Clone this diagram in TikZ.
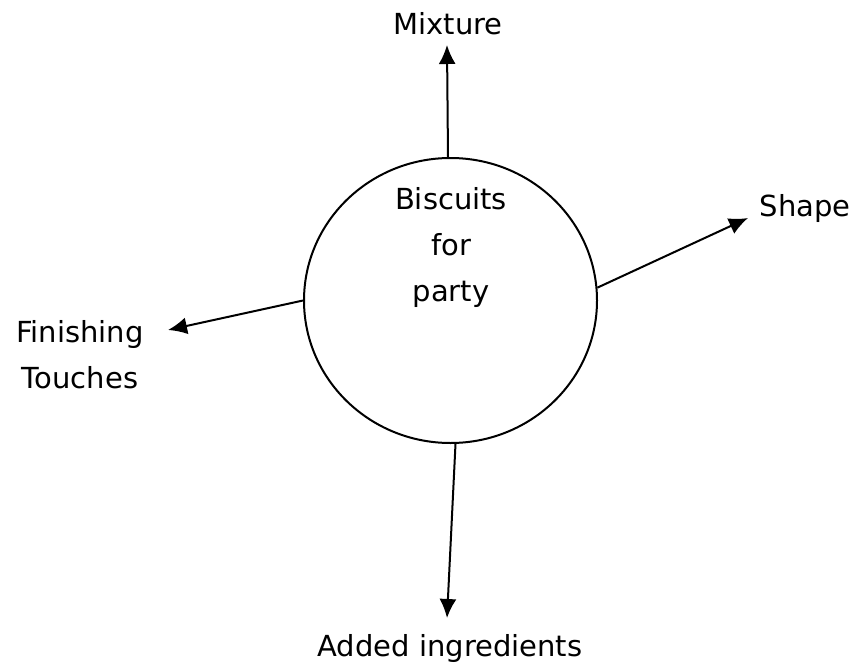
\documentclass[tikz,border=0pt]{standalone}
\usepackage{fontspec}
\setmainfont{DejaVu Sans}
\usetikzlibrary{arrows.meta,positioning,shapes.geometric}
\tikzset{
  mylabel/.style = {font=\fontsize{29}{46}\selectfont, align=center, inner sep=0pt},
  myring/.style = {ellipse, draw, line width=2pt, minimum width=293pt, minimum height=285pt},
  myarrow/.style = {-{Latex[length=19pt,width=17pt]}, line width=2pt},
}

\begin{document}
\begin{tikzpicture}[x=1pt,y=-1pt]
\useasboundingbox (0,0) rectangle (856,669);
% centre ring
\node[myring] (party) at (450.5,300.5) {};
\node[mylabel] (title) at (451,247) {Biscuits\\for\\party};
% free ends of the arrows
\coordinate (mixtip) at (447,45);
\coordinate (shapetip) at (748,218);
\coordinate (finishtip) at (168,330);
\coordinate (addtip) at (447,618);
\draw[myarrow] (party.91.4) -- (mixtip);
\draw[myarrow] (party.5) -- (shapetip);
\draw[myarrow] (party.180.5) -- (finishtip);
\draw[myarrow] (party.-88.2) -- (addtip);
% labels
\node[mylabel] (mixture) at (448,24) {Mixture};
\node[mylabel] (shape) at (805,208) {Shape};
\node[mylabel] (finishing) at (80,355) {Finishing\\ Touches};
\node[mylabel] (added) at (450,648) {Added ingredients};
\end{tikzpicture}
\end{document}
